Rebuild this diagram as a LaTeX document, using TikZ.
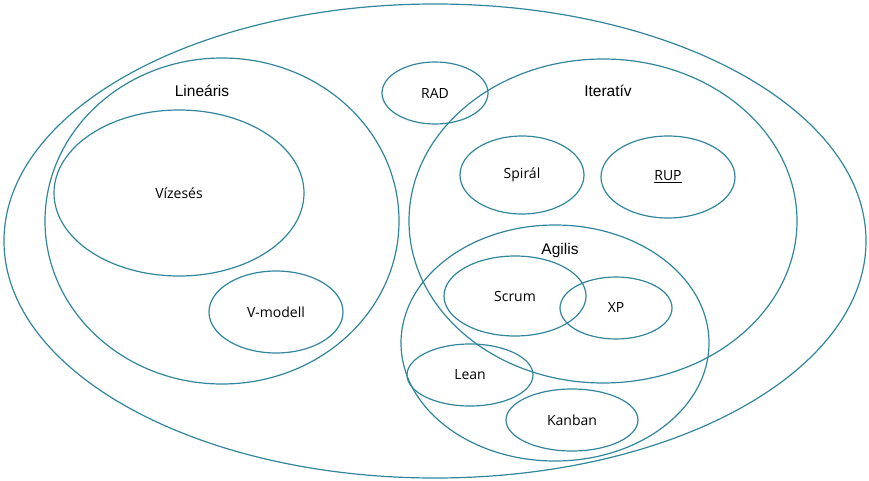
\documentclass[tikz,border=0pt]{standalone}
\usepackage{fontspec}
\setmainfont{Open Sans}
\newfontfamily\hdfont{Liberation Sans}
\definecolor{teal1}{HTML}{31859C}
\begin{document}
\begin{tikzpicture}[x=1pt,y=-1pt,
  ring/.style={draw=teal1,line width=1.2pt},
  lbl/.style={font=\fontsize{14}{16}\selectfont,text=black,inner sep=0pt},
  hd/.style={font=\hdfont\fontsize{15.5}{17}\selectfont,text=black,inner sep=0pt}]
\useasboundingbox (0,0) rectangle (869,481);
\draw[ring] (435,241) ellipse [x radius=431,y radius=237];
\draw[ring] (222,221) ellipse [x radius=177,y radius=163];
\draw[ring] (179,193) ellipse [x radius=125,y radius=83];
\draw[ring] (276,312) ellipse [x radius=67,y radius=41];
\draw[ring] (435,93) ellipse [x radius=53,y radius=31];
\draw[ring] (603,221) ellipse [x radius=194,y radius=162];
\draw[ring] (522,175) ellipse [x radius=62,y radius=39];
\draw[ring] (668,177) ellipse [x radius=67,y radius=41];
\draw[ring] (555,343) ellipse [x radius=154,y radius=118];
\draw[ring] (515,296) ellipse [x radius=71,y radius=40];
\draw[ring] (616,308) ellipse [x radius=56,y radius=31];
\draw[ring] (470,375) ellipse [x radius=63,y radius=31];
\draw[ring] (572,420) ellipse [x radius=66,y radius=31];
\node[hd] (lin) at (202,91) {Lineáris};
\node[hd] (ite) at (608,91) {Iteratív};
\node[hd] (agi) at (560,250) {Agilis};
\node[lbl] (rad) at (435,93) {RAD};
\node[lbl] (viz) at (179,193) {Vízesés};
\node[lbl] (vmo) at (276,312) {V-modell};
\node[lbl] (spi) at (522,175) {Spirál};
\node[lbl] (rup) at (668,177) {\underline{RUP}};
\node[lbl] (scr) at (515,296) {Scrum};
\node[lbl] (xp) at (616,308) {XP};
\node[lbl] (lea) at (470,375) {Lean};
\node[lbl] (kan) at (572,420) {Kanban};
\end{tikzpicture}
\end{document}
